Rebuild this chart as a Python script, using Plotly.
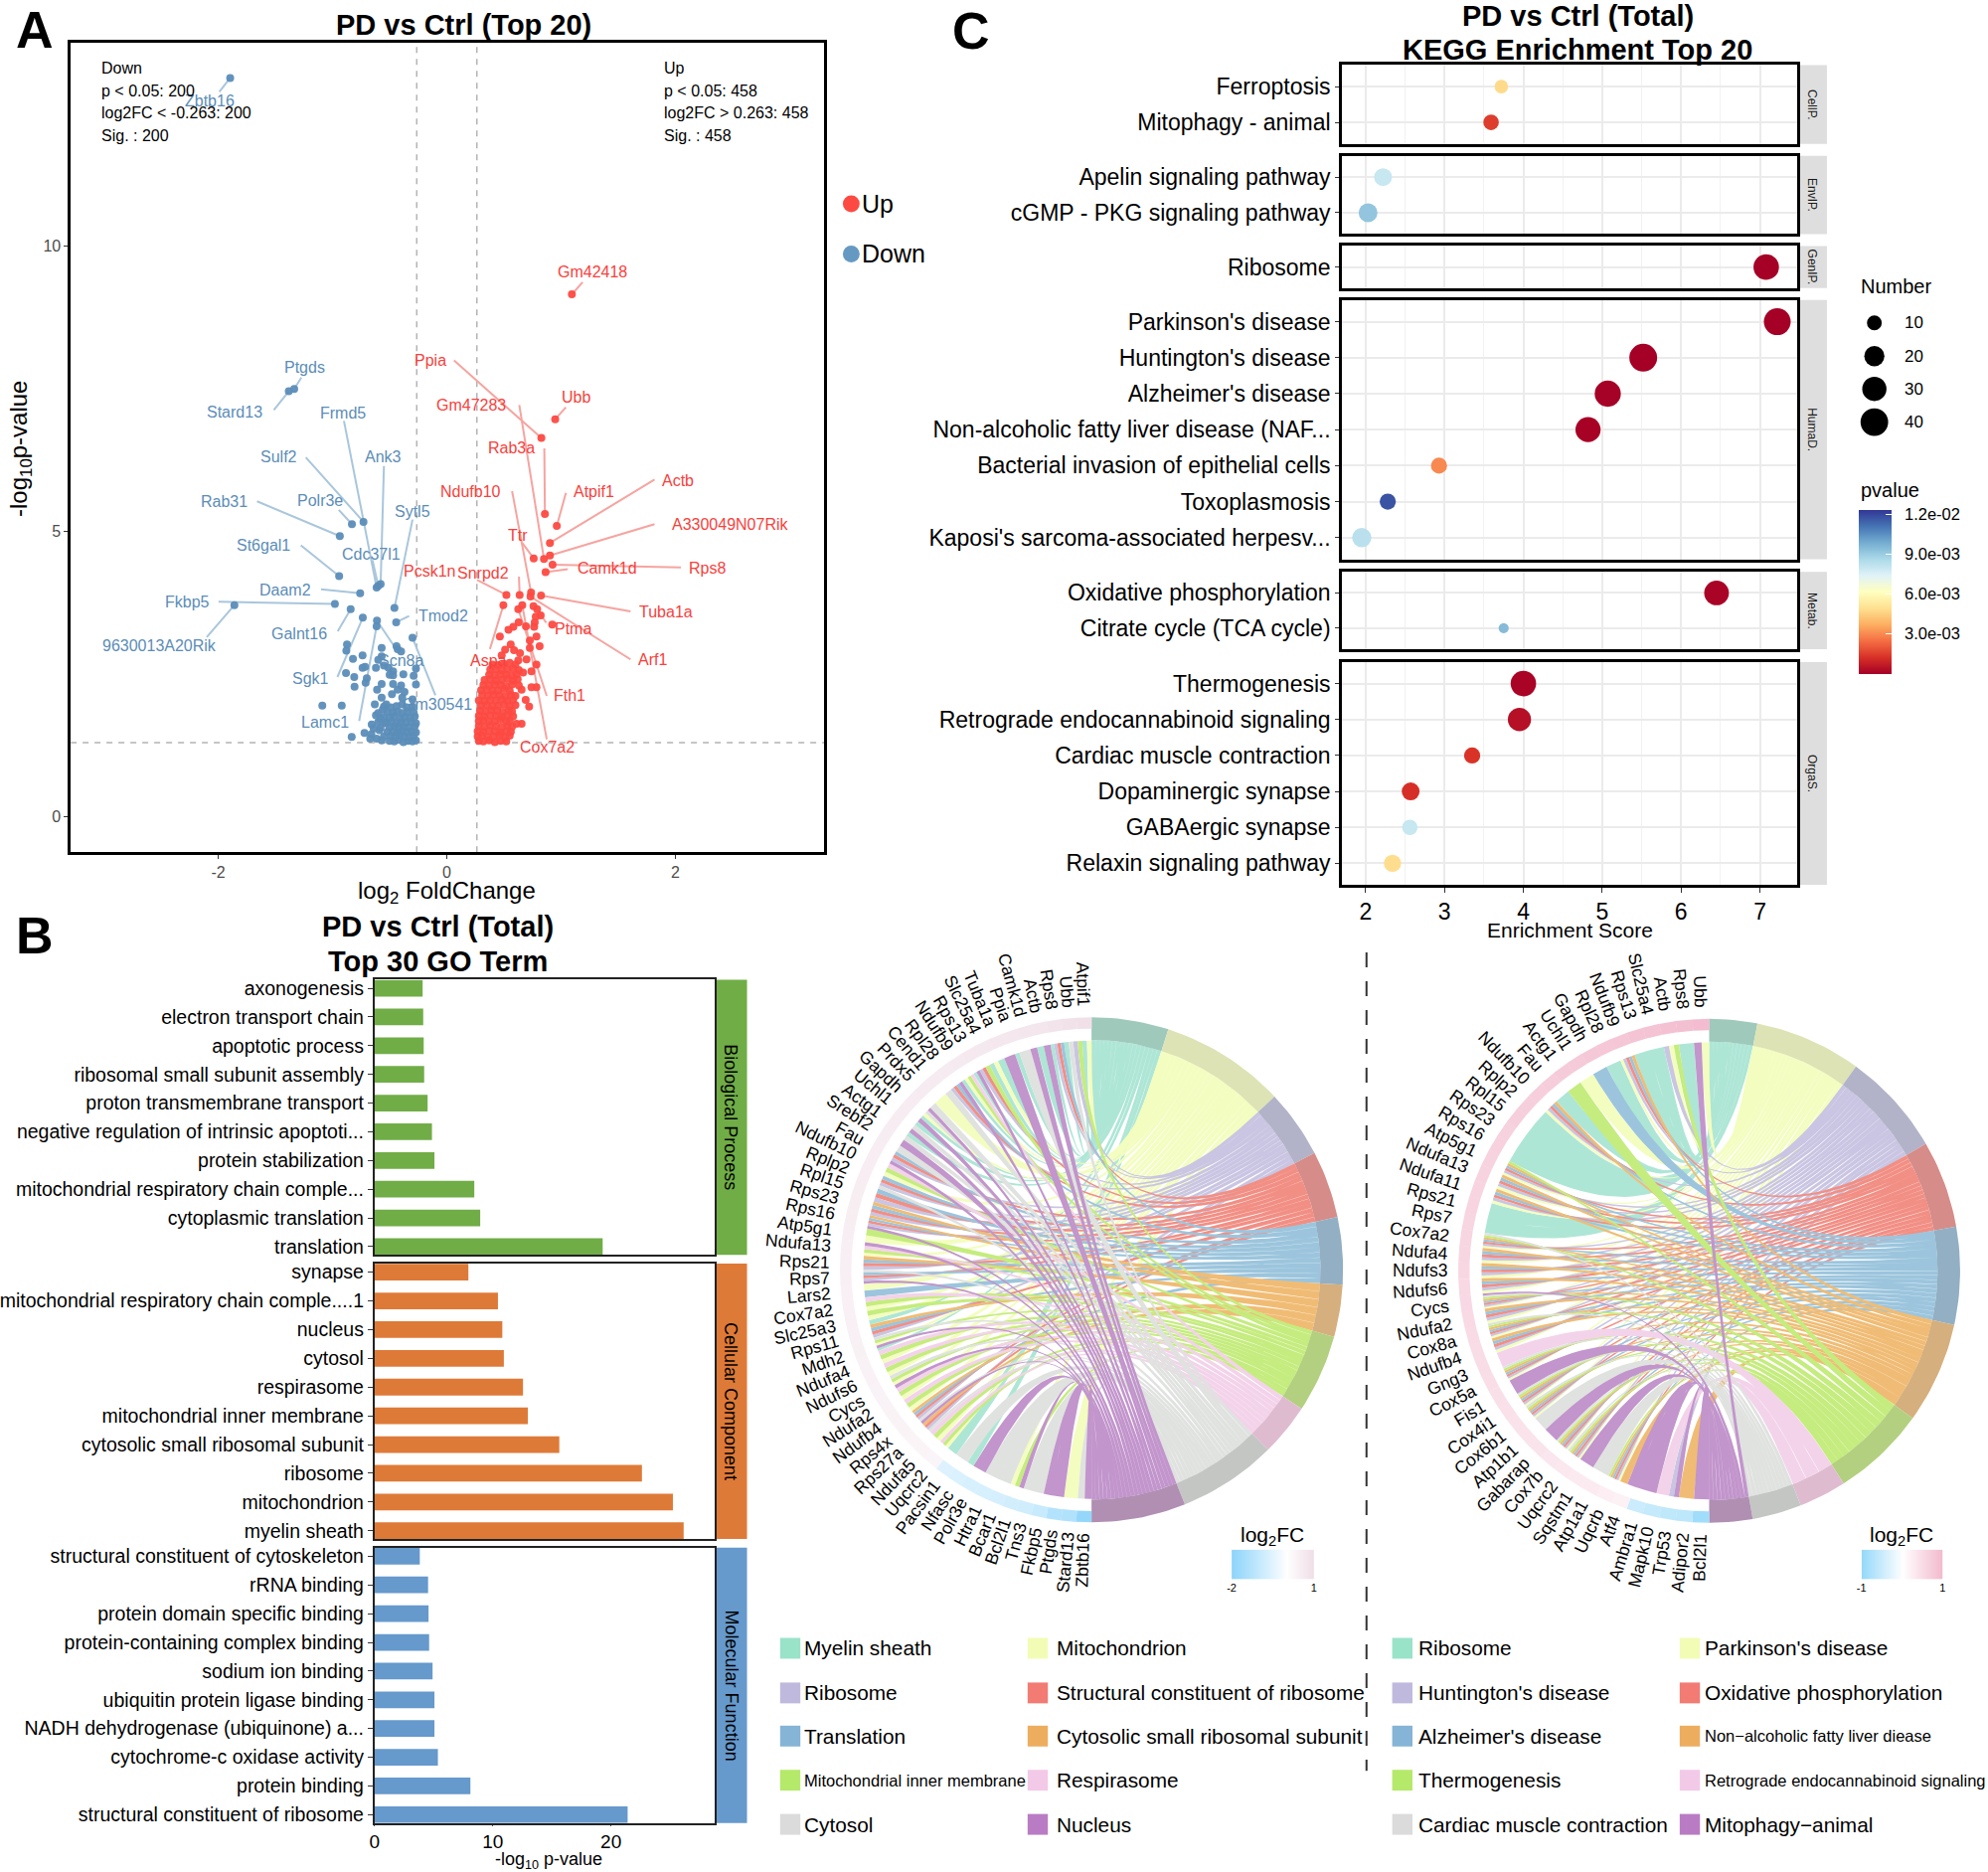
import math
import plotly.graph_objects as go
from plotly.colors import sample_colorscale

W, H = 2000, 1883
FONT = "Liberation Sans"

# ---------------- Panel A data ----------------
down_names = ["Zbtb16","Ptgds","Stard13","Frmd5","Sulf2","Ank3","Rab31","Polr3e","Sytl5","St6gal1","Cdc37l1","Daam2","Fkbp5","9630013A20Rik","Tmod2","Galnt16","Sgk1","Lamc1","Scn8a","Gm30541"]
down_fc = [-1.895,-1.335,-1.382,-0.614,-0.729,-0.579,-0.936,-0.83,-0.458,-0.942,-0.60,-0.758,-0.979,-1.858,-0.443,-0.841,-0.735,-0.614,-0.611,-0.30]
down_p = [12.95,7.50,7.46,4.02,5.17,4.08,4.92,5.13,3.66,4.22,4.05,3.92,3.73,3.71,3.41,3.64,3.49,3.34,3.44,3.14]
down_text_fc = [-2.07,-1.246,-1.853,-0.91,-1.467,-0.556,-1.947,-1.106,-0.30,-1.605,-0.657,-1.411,-2.27,-2.51,-0.03,-1.294,-1.195,-1.066,-0.40,-0.086]
down_text_p = [12.55,7.88,7.09,7.08,6.31,6.31,5.53,5.54,5.36,4.76,4.60,3.98,3.77,3.0,3.52,3.21,2.43,1.66,2.74,1.97]
down_stub_fc = [-1.99,-1.272,-1.513,-0.90,-1.233,-0.55,-1.66,-0.945,-0.30,-1.277,-0.65,-1.10,-1.997,-2.10,-0.33,-0.954,-0.957,-0.767,-0.44,-0.10]
down_stub_p = [12.71,7.70,7.13,6.94,6.30,6.15,5.53,5.38,5.21,4.76,4.50,3.99,3.77,3.15,3.52,3.25,2.45,1.68,2.93,2.13]

down_other_fc = [-0.873,-0.879,-0.821,-0.737,-0.737,-0.715,-0.882,-0.81,-0.807,-0.70,-0.71,-1.089,-0.919,-0.832,-0.72,-0.657,-0.66,-0.614,-0.67,
  -0.57,-0.44,-0.43,-0.40,-0.57,-0.60,-0.62,-0.55,-0.51,-0.47,-0.50,-0.47,-0.38,-0.29,-0.27,-0.57,-0.61,-0.47,-0.40,-0.37,-0.27,-0.43,-0.48,-0.39,-0.57,-0.63,-0.53,-0.30,-0.39,
  -0.50,-0.46,-0.42,-0.38,-0.34,-0.30,-0.27,-0.55,-0.49,-0.45,-0.41,-0.37,-0.33,-0.29,-0.52,-0.47,-0.43,-0.39,-0.35,-0.31,-0.27,
  -0.58,-0.50,-0.46,-0.42,-0.38,-0.33,-0.28,-0.60,-0.53,-0.48,-0.44,-0.40,-0.36,-0.31,-0.27,-0.55,-0.50,-0.46,-0.41,-0.37,-0.32,-0.28,
  -0.52,-0.47,-0.43,-0.39,-0.34,-0.29,-0.55,-0.49,-0.44,-0.35,-0.30,-0.60,-0.56,-0.58,-0.62,-0.54,-0.59,-0.64,-0.57]
down_other_p = [3.02,2.91,2.77,2.83,2.61,2.63,2.52,2.45,2.28,2.43,2.35,1.95,1.95,1.40,1.47,1.62,1.45,1.37,1.37,
  2.96,2.99,2.94,2.90,2.81,2.75,2.61,2.65,2.61,2.55,2.49,2.48,2.50,2.47,2.60,2.33,2.23,2.33,2.30,2.19,2.32,2.23,2.15,2.09,2.09,1.97,1.97,2.06,1.97,
  1.33,1.32,1.35,1.31,1.33,1.32,1.34,1.41,1.42,1.40,1.43,1.41,1.40,1.42,1.49,1.50,1.48,1.51,1.49,1.50,1.48,
  1.56,1.57,1.59,1.56,1.58,1.57,1.59,1.66,1.65,1.67,1.64,1.66,1.65,1.67,1.64,1.75,1.74,1.76,1.73,1.75,1.74,1.76,
  1.84,1.83,1.85,1.82,1.84,1.83,1.93,1.92,1.94,1.92,1.93,1.82,1.88,1.72,1.78,1.64,1.52,1.55,1.34]

up_names = ["Gm42418","Ppia","Ubb","Gm47283","Rab3a","Ndufb10","Atpif1","Actb","A330049N07Rik","Ttr","Pcsk1n","Snrpd2","Camk1d","Rps8","Tuba1a","Ptma","Arf1","Aspa","Fth1","Cox7a2"]
up_fc = [1.094,0.827,0.948,0.85,0.858,0.737,0.962,0.902,0.902,0.76,0.521,0.637,0.864,0.925,0.824,0.79,0.732,0.495,0.625,0.66]
up_p = [9.16,6.64,6.97,4.52,5.31,3.93,5.10,4.80,4.58,4.53,3.89,3.89,4.29,4.42,3.88,3.64,3.86,3.71,3.64,3.71]
up_text_fc = [1.277,-0.141,1.126,0.215,0.565,0.209,1.288,2.02,2.482,0.623,-0.152,0.314,1.408,2.277,1.921,1.10,1.80,0.361,1.073,0.874]
up_text_p = [9.55,8.0,7.36,7.22,6.47,5.70,5.70,5.90,5.12,4.94,4.30,4.27,4.36,4.36,3.60,3.30,2.75,2.74,2.12,1.22]
up_stub_fc = [1.188,0.063,1.042,0.634,0.853,0.571,1.042,1.817,1.817,0.66,0.265,0.631,1.058,2.047,1.607,0.87,1.607,0.377,0.874,0.874]
up_stub_p = [9.37,8.0,7.18,7.22,6.46,5.71,5.68,5.91,5.13,4.80,4.15,4.21,4.34,4.37,3.6,3.40,2.76,2.94,2.12,1.36]

up_other_fc = [0.758,0.821,0.778,0.922,0.769,0.628,0.582,0.539,0.692,0.764,0.464,0.784,0.726,0.559,0.812,0.726,0.51,0.588,0.48,0.64,0.697,0.625,0.784,0.74,0.667,0.784,0.74,0.654,0.69,0.72,0.654,0.61,
  0.28,0.32,0.37,0.42,0.47,0.52,
  0.27,0.31,0.36,0.41,0.46,0.51,0.55,
  0.27,0.32,0.37,0.42,0.47,0.52,0.56,
  0.28,0.33,0.38,0.43,0.48,0.53,0.57,
  0.28,0.32,0.37,0.42,0.47,0.52,0.55,
  0.28,0.33,0.38,0.43,0.48,0.53,0.58,
  0.29,0.34,0.39,0.44,0.49,0.54,0.57,
  0.30,0.35,0.40,0.45,0.50,0.55,0.60,
  0.28,0.33,0.38,0.43,0.48,0.53,0.58,
  0.31,0.36,0.41,0.46,0.51,0.56,0.60,
  0.30,0.35,0.40,0.45,0.50,0.55,
  0.32,0.37,0.42,0.47,0.52,0.57,0.63,
  0.33,0.38,0.43,0.48,0.53,0.58,0.62,
  0.37,0.42,0.47,0.52,0.57,0.61,
  0.38,0.43,0.48,0.53,0.58,0.63,
  0.40,0.45,0.50,0.55,0.60]
up_other_p = [3.69,3.53,3.51,3.37,3.41,3.41,3.33,3.28,3.34,3.33,3.16,3.16,3.09,3.02,2.99,2.96,2.93,2.92,2.83,2.87,2.76,2.74,2.67,2.55,2.53,2.27,2.27,2.23,2.05,1.93,1.63,1.63,
  1.33,1.32,1.34,1.31,1.33,1.32,
  1.41,1.42,1.40,1.41,1.43,1.40,1.42,
  1.50,1.49,1.51,1.50,1.48,1.50,1.49,
  1.59,1.58,1.60,1.59,1.57,1.60,1.58,
  1.68,1.69,1.67,1.68,1.70,1.67,1.69,
  1.77,1.76,1.78,1.77,1.75,1.78,1.76,
  1.86,1.85,1.87,1.86,1.84,1.87,1.85,
  1.95,1.96,1.94,1.95,1.97,1.94,1.96,
  2.04,2.03,2.05,2.04,2.06,2.03,2.05,
  2.13,2.12,2.14,2.13,2.11,2.14,2.12,
  2.22,2.23,2.21,2.22,2.24,2.21,
  2.31,2.30,2.32,2.31,2.29,2.32,2.30,
  2.40,2.41,2.39,2.40,2.42,2.39,2.41,
  2.49,2.48,2.50,2.49,2.47,2.50,
  2.58,2.59,2.57,2.58,2.60,2.57,
  2.67,2.66,2.68,2.70,2.67]

# ---------------- Panel B data ----------------
bp_terms = ["axonogenesis","electron transport chain","apoptotic process","ribosomal small subunit assembly","proton transmembrane transport","negative regulation of intrinsic apoptoti...","protein stabilization","mitochondrial respiratory chain comple...","cytoplasmic translation","translation"]
bp_vals = [4.07,4.12,4.16,4.2,4.49,4.86,5.07,8.44,8.94,19.3]
cc_terms = ["synapse","mitochondrial respiratory chain comple....1","nucleus","cytosol","respirasome","mitochondrial inner membrane","cytosolic small ribosomal subunit","ribosome","mitochondrion","myelin sheath"]
cc_vals = [7.94,10.44,10.81,10.94,12.56,12.97,15.63,22.62,25.24,26.15]
mf_terms = ["structural constituent of cytoskeleton","rRNA binding","protein domain specific binding","protein-containing complex binding","sodium ion binding","ubiquitin protein ligase binding","NADH dehydrogenase (ubiquinone) a...","cytochrome-c oxidase activity","protein binding","structural constituent of ribosome"]
mf_vals = [3.83,4.53,4.57,4.62,4.91,5.07,5.07,5.36,8.11,21.41]

# ---------------- Panel C data ----------------
kegg_groups = ["CellP.","EnvIP.","GenIP.","HumaD.","Metab.","OrgaS."]
kegg_terms = [["Ferroptosis","Mitophagy - animal"],["Apelin signaling pathway","cGMP - PKG signaling pathway"],["Ribosome"],
  ["Parkinson's disease","Huntington's disease","Alzheimer's disease","Non-alcoholic fatty liver disease (NAF...","Bacterial invasion of epithelial cells","Toxoplasmosis","Kaposi's sarcoma-associated herpesv..."],
  ["Oxidative phosphorylation","Citrate cycle (TCA cycle)"],
  ["Thermogenesis","Retrograde endocannabinoid signaling","Cardiac muscle contraction","Dopaminergic synapse","GABAergic synapse","Relaxin signaling pathway"]]
kegg_score = [[3.72,3.59],[2.22,2.03],[7.08],[7.22,5.52,5.07,4.82,2.93,2.28,1.95],[6.45,3.75],[4.0,3.95,3.35,2.57,2.56,2.34]]
kegg_count = [[8,11],[15,17],[33],[37,40,35,32,12,12,18],[31,4],[33,27,12,15,11,14]]
kegg_p = [[0.0048,0.0015],[0.0080,0.0092],[0.00001],[0.00001,0.00001,0.00002,0.00005,0.0030,0.0118,0.0083],[0.0001,0.0095],[0.0001,0.0004,0.0013,0.0012,0.0080,0.0049]]
number_levels = [10,20,30,40]
p_ticks = [0.003,0.006,0.009,0.012]
p_tick_text = ["\u00a0\u00a03.0e-03","\u00a0\u00a06.0e-03","\u00a0\u00a09.0e-03","\u00a0\u00a01.2e-02"]
p_scale = ["#a50026","#d73027","#f46d43","#fdae61","#fee090","#ffffbf","#e0f3f8","#abd9e9","#74add1","#4575b4","#313695"]

# ---------------- Chord data ----------------
go_terms = ["Myelin sheath","Mitochondrion","Ribosome","Structural constituent of ribosome","Translation","Cytosolic small ribosomal subunit","Mitochondrial inner membrane","Respirasome","Cytosol","Nucleus"]
go_arc = [17.8,28.9,15.8,15.5,15.5,12.0,18.0,12.1,22.8,21.8]
go_genes = ["Zbtb16","Stard13","Ptgds","Fkbp5","Tns3","Bcl2l1","Bcar1","Htra1","Polr3e","Nfasc","Pacsin1","Uqcrc2","Ndufa5","Rps27a","Rps4x","Ndufb4","Ndufa2","Cycs","Ndufs6","Ndufa4","Mdh2","Rps11","Slc25a3","Cox7a2","Lars2","Rps7","Rps21","Ndufa13","Atp5g1","Rps16","Rps23","Rpl15","Rplp2","Ndufb10","Fau","Srebf2","Actg1","Uchl1","Gapdh","Prdx5","Cend1","Rpl28","Ndufb9","Rps13","Slc25a4","Tuba1a","Ppia","Camk1d","Actb","Rps8","Ubb","Atpif1"]
go_members = ["JI","B","J","JI","I","JGB","I","I","J","AI","IA","ABGH","BGH","ICDFJ","ICDEF","BGH","BGH","JBGI","BGH","BGH","AJBGI","CDEF","ABG","BGH","EB","JCDEI","CDEF","BGHJ","BG","JCDEF","CDEF","CDE","ICDE","BGH","JCDE","IJ","IAJ","IAJ","ABIJ","IB","BI","CDEJ","ABGH","AJCD","GAB","AJ","JAI","IJ","AJ","ACDE","AIC","GAB"]
go_fc = [-1.9,-1.38,-1.34,-0.98,-0.85,-0.8,-0.75,-0.72,-0.7,-0.65,-0.6,0.3,0.32,0.33,0.35,0.36,0.37,0.38,0.4,0.41,0.42,0.43,0.44,0.45,0.45,0.46,0.47,0.48,0.49,0.5,0.5,0.51,0.52,0.52,0.53,0.54,0.55,0.56,0.57,0.58,0.59,0.6,0.62,0.64,0.66,0.68,0.7,0.72,0.74,0.78,0.85,0.9]
go_colorbar = [-2,-1,0,1]

kegg_chord_terms = ["Ribosome","Parkinson's disease","Huntington's disease","Oxidative phosphorylation","Alzheimer's disease","Non\u2212alcoholic fatty liver diease","Thermogenesis","Retrograde endocannabinoid signaling","Cardiac muscle contraction","Mitophagy\u2212animal"]
kegg_arc = [11.1,24.7,23.9,20.2,22.5,23.4,21.8,11.0,11.4,10.0]
kegg_genes = ["Bcl2l1","Adipor2","Trp53","Mapk10","Ambra1","Atf4","Uqcrb","Atp1a1","Sqstm1","Uqcrc2","Cox7b","Gabarap","Atp1b1","Cox6b1","Cox4i1","Fis1","Cox5a","Gng3","Ndufb4","Cox8a","Ndufa2","Cycs","Ndufs6","Ndufs3","Ndufa4","Cox7a2","Rps7","Rps21","Ndufa11","Ndufa13","Atp5g1","Rps16","Rps23","Rpl15","Rplp2","Ndufb10","Fau","Actg1","Uchl1","Gapdh","Rpl28","Ndufb9","Rps13","Slc25a4","Actb","Rps8","Ubb"]
kegg_members = ["J","F","JCH","HJ","J","JF","BCDEFGI","I","J","BCDEFGI","BCDEFGI","J","I","BCDEFGI","BCDEFGI","J","BCDEFGI","H","BCDEF","BCDEFGI","BCDEF","BCDEFGIJ","BCDEF","BCDEF","BCDEF","BCDEFGI","A","A","BCDEF","BCDEF","BCDEFG","A","A","A","A","BCDEF","A","G","B","E","A","BCDEF","A","A","CBG","A","JB"]
kegg_fc = [-0.9,-0.62,-0.6,-0.56,-0.5,0.2,0.25,0.28,0.3,0.33,0.35,0.38,0.4,0.42,0.44,0.46,0.48,0.5,0.5,0.52,0.54,0.55,0.56,0.57,0.58,0.6,0.6,0.61,0.62,0.63,0.64,0.65,0.66,0.68,0.69,0.7,0.72,0.74,0.76,0.78,0.8,0.82,0.84,0.86,0.88,0.9,0.95]
kegg_colorbar = [-1,-0.5,0,0.5,1]

ribbon_cols = ["#AEE6D6","#F3FDBF","#C9C5E2","#F28F85","#9CC5DD","#F0BC75","#C5EC7E","#F3D3EA","#E0E2E0","#C295CC"]
band_cols = ["#9EC9BB","#DDE3B4","#B2B3C8","#D68C88","#92AFC3","#D5AF7E","#B2D07F","#DFBBD0","#C4C6C4","#B08FB3"]
swatch_cols = ["#99E3C9","#F2FCB5","#BFBADD","#F27B74","#85B4D6","#EDAD5F","#B5E96A","#F3C9E8","#DBDBDB","#B97CC4"]

# ---------------- helpers ----------------
def dx(a, b): return [a / W, b / W]
def dy(t, b): return [1 - b / H, 1 - t / H]
def px(x): return x / W
def py(y): return 1 - y / H

fig = go.Figure()
layout = dict(width=W, height=H, margin=dict(l=0, r=0, t=0, b=0), plot_bgcolor="white", paper_bgcolor="white",
              showlegend=False, hovermode=False, font=dict(family=FONT, color="black"))
annotations, shapes = [], []

def page_text(x, y, text, size, bold=False, anchor="center", angle=0, color="black"):
    annotations.append(dict(xref="paper", yref="paper", x=px(x), y=py(y), text=f"<b>{text}</b>" if bold else text,
        showarrow=False, xanchor=anchor, yanchor="middle", textangle=angle, font=dict(size=size, color=color, family=FONT)))

def page_rect(x0, y0, x1, y1, col):
    shapes.append(dict(type="rect", xref="paper", yref="paper", x0=px(x0), x1=px(x1), y0=py(y0), y1=py(y1), fillcolor=col, line=dict(width=0), layer="below"))

# ---------------- Panel A ----------------
layout["xaxis"] = dict(domain=dx(62.5, 825), range=[-3.29, 3.30], anchor="y", tickvals=[-2, 0, 2], ticktext=["-2", "0", "2"], ticks="outside", ticklen=4, tickcolor="#333",
    tickfont=dict(size=16, color="#4d4d4d"), showgrid=False, zeroline=False, showline=True, linecolor="black", linewidth=2.5, mirror=True)
layout["yaxis"] = dict(domain=dy(41, 857), range=[-0.62, 13.57], anchor="x", tickvals=[0, 5, 10], ticks="outside", ticklen=4, tickcolor="#333",
    tickfont=dict(size=16, color="#4d4d4d"), showgrid=False, zeroline=False, showline=True, linecolor="black", linewidth=2.5, mirror=True)
for v in (-0.263, 0.263):
    shapes.append(dict(type="line", xref="x", yref="y", x0=v, x1=v, y0=-0.62, y1=13.57, line=dict(color="#B4B4B4", width=1.5, dash="6px,6px"), layer="below"))
shapes.append(dict(type="line", xref="x", yref="y", x0=-3.29, x1=3.30, y0=1.3, y1=1.3, line=dict(color="#B4B4B4", width=1.5, dash="6px,6px"), layer="below"))

def seg(xs, ys, sx, sy):
    ox, oy = [], []
    for a, b, c, d in zip(xs, ys, sx, sy):
        ox += [a, c, None]; oy += [b, d, None]
    return ox, oy

sx, sy = seg(down_fc, down_p, down_stub_fc, down_stub_p)
fig.add_trace(go.Scatter(x=sx, y=sy, mode="lines", line=dict(color="#A9C6DC", width=2), xaxis="x", yaxis="y"))
sx, sy = seg(up_fc, up_p, up_stub_fc, up_stub_p)
fig.add_trace(go.Scatter(x=sx, y=sy, mode="lines", line=dict(color="#F6A4A0", width=2), xaxis="x", yaxis="y"))
fig.add_trace(go.Scatter(x=down_fc + down_other_fc, y=down_p + down_other_p, mode="markers", marker=dict(size=8, color="#5B8DB8", opacity=0.95), xaxis="x", yaxis="y"))
fig.add_trace(go.Scatter(x=up_fc + up_other_fc, y=up_p + up_other_p, mode="markers", marker=dict(size=8, color="#FC4A42", opacity=0.95), xaxis="x", yaxis="y"))
for names, xs, ys, col in ((down_names, down_text_fc, down_text_p, "#5B8DB8"), (up_names, up_text_fc, up_text_p, "#F8413C")):
    for n, a, b in zip(names, xs, ys):
        annotations.append(dict(xref="x", yref="y", x=a, y=b, text=n, showarrow=False, xanchor="center", yanchor="middle", font=dict(size=16, color=col, family=FONT)))
for i, t in enumerate(["Down", "p &lt; 0.05: 200", "log2FC &lt; -0.263: 200", "Sig. : 200"]):
    page_text(92, 67 + i * 22.5, t, 16, anchor="left")
for i, t in enumerate(["Up", "p &lt; 0.05: 458", "log2FC &gt; 0.263: 458", "Sig. : 458"]):
    page_text(661, 67 + i * 22.5, t, 16, anchor="left")
page_text(460, 23, "PD vs Ctrl (Top 20)", 29, bold=True)
page_text(443, 897, "log<sub>2</sub> FoldChange", 24)
page_text(11, 450, "-log<sub>10</sub>p-value", 24, angle=-90)
for y, col, t in ((203.4, "#FC4A42", "Up"), (254, "#6699C2", "Down")):
    shapes.append(dict(type="circle", xref="paper", yref="paper", x0=px(844), x1=px(861), y0=py(y + 8.5), y1=py(y - 8.5), fillcolor=col, line=dict(width=0)))
    page_text(861, y, t, 25, anchor="left")
page_text(26, 28, "A", 52, bold=True)
page_text(26, 941, "B", 52, bold=True)
page_text(974, 29, "C", 52, bold=True)

# ---------------- Panel B ----------------
b_specs = [(bp_terms, bp_vals, "#70AD47", "Biological Process", 985.5, 1263), (cc_terms, cc_vals, "#DE7A38", "Cellular Component", 1271.7, 1549.4), (mf_terms, mf_vals, "#6699CC", "Molecular Function", 1558, 1835.6)]
for k, (terms, vals, col, strip, t, b) in enumerate(b_specs):
    n = 2 + k
    last = k == 2
    layout[f"xaxis{n}"] = dict(domain=dx(370, 714), range=[0, 28.75], anchor=f"y{n}", tickvals=[0, 10, 20] if last else [], ticks="outside" if last else "", ticklen=1,
        tickfont=dict(size=19), showgrid=False, zeroline=False, showline=True, linecolor="#222", linewidth=1.8, mirror=True)
    layout[f"yaxis{n}"] = dict(domain=dy(t, b), type="category", categoryorder="array", categoryarray=terms, range=[9.29, -0.30], anchor=f"x{n}", dtick=1, ticks="outside", ticklen=5, tickcolor="#333",
        tickfont=dict(size=19.5), showgrid=False, zeroline=False, showline=True, linecolor="#222", linewidth=1.8, mirror=True)
    fig.add_trace(go.Bar(x=vals, y=terms, orientation="h", width=0.58, marker=dict(color=col, line=dict(width=0)), xaxis=f"x{n}", yaxis=f"y{n}"))
    page_rect(716, t, 747, b, col)
    page_text(731, (t + b) / 2, strip, 18, angle=90)
page_text(434.5, 932, "PD vs Ctrl (Total)", 29, bold=True)
page_text(434.5, 967, "Top 30 GO Term", 29, bold=True)
page_text(546, 1873, "-log<sub>10</sub> p-value", 18)

# ---------------- Panel C ----------------
def number_size(n):
    return 15 + (math.sqrt(n) - math.sqrt(10)) * 4.11

c_boxes = [(63.6, 143), (155, 233.9), (246, 288.4), (300.5, 561.7), (574.4, 652.5), (665.3, 890)]
for k, (g, terms, score, count, pv, (t, b)) in enumerate(zip(kegg_groups, kegg_terms, kegg_score, kegg_count, kegg_p, c_boxes)):
    n = 5 + k
    last = k == 5
    layout[f"xaxis{n}"] = dict(domain=dx(1349, 1810), range=[1.697, 7.474], anchor=f"y{n}", tickvals=[2, 3, 4, 5, 6, 7], showticklabels=last, ticks="outside" if last else "", ticklen=5, tickcolor="#333",
        tickfont=dict(size=23), showgrid=True, gridcolor="#EBEBEB", gridwidth=2, zeroline=False, showline=True, linecolor="black", linewidth=2.5, mirror=True,
        minor=dict(tickvals=[2.5, 3.5, 4.5, 5.5, 6.5], showgrid=True, gridcolor="#F2F2F2", gridwidth=1))
    layout[f"yaxis{n}"] = dict(domain=dy(t, b), type="category", categoryorder="array", categoryarray=terms, range=[len(terms) - 1 + 0.6, -0.6], anchor=f"x{n}", dtick=1, ticks="outside", ticklen=4, tickcolor="#333",
        tickfont=dict(size=23), showgrid=True, gridcolor="#EBEBEB", gridwidth=2, zeroline=False, showline=True, linecolor="black", linewidth=2.5, mirror=True)
    fig.add_trace(go.Scatter(x=score, y=terms, mode="markers", marker=dict(size=[number_size(c) for c in count], color=pv, coloraxis="coloraxis", opacity=1, line=dict(width=0)), xaxis=f"x{n}", yaxis=f"y{n}"))
    page_rect(1811, t, 1840, b, "#DEDEDE")
    page_text(1825, (t + b) / 2, g, 12, angle=90, color="#1a1a1a")
layout["coloraxis"] = dict(cmin=0, cmax=0.01236, colorscale=[[i / 10, c] for i, c in enumerate(p_scale)],
    colorbar=dict(x=px(1872), xanchor="left", y=py(677), yanchor="bottom", thickness=33, thicknessmode="pixels", len=165, lenmode="pixels", xpad=0, ypad=0, outlinewidth=0,
        tickvals=p_ticks, ticktext=p_tick_text, ticks="inside", ticklen=6, tickcolor="white", tickwidth=1.2, tickfont=dict(size=16.5, family=FONT)))
page_text(1588, 14, "PD vs Ctrl (Total)", 29, bold=True)
page_text(1588, 48, "KEGG Enrichment Top 20", 29, bold=True)
page_text(1579.5, 935, "Enrichment Score", 21)
page_text(1872, 287, "Number", 20, anchor="left")
page_text(1872, 492.5, "pvalue", 20, anchor="left")
for lv, y in zip(number_levels, (323.5, 357, 390, 423.5)):
    d = number_size(lv) / 2
    shapes.append(dict(type="circle", xref="paper", yref="paper", x0=px(1888 - d), x1=px(1888 + d), y0=py(y + d), y1=py(y - d), fillcolor="black", line=dict(width=0)))
    page_text(1916, y, str(lv), 17, anchor="left")

# ---------------- Chords ----------------
EM = dict(zip("ilj", [0.222] * 3)); EM.update(dict(zip("ft", [0.278] * 2))); EM["r"] = 0.333
EM.update(dict(zip("sckyzvx", [0.5] * 7))); EM["m"] = 0.833; EM["w"] = 0.722
EM.update(dict(zip("ABEKPSVXY", [0.667] * 9))); EM.update(dict(zip("CDHNRU", [0.722] * 6))); EM.update(dict(zip("FTZ", [0.611] * 3)))
EM.update(dict(zip("GOQ", [0.778] * 3))); EM["M"] = 0.833; EM["I"] = 0.278

def pol(r, deg):
    a = math.radians(deg)
    return r * math.sin(a), r * math.cos(a)

def ring_poly(r0, r1, a0, a1):
    steps = max(2, int(abs(a1 - a0) / 1.5) + 2)
    angs = [a0 + (a1 - a0) * i / (steps - 1) for i in range(steps)]
    pts = [pol(r1, a) for a in angs] + [pol(r0, a) for a in reversed(angs)]
    pts.append(pts[0])
    return [p[0] for p in pts], [p[1] for p in pts]

def chord(n, cx, cy, R, genes, members, arcs, fc, vmin, vmax, scale):
    left, right, vert = 370, 270, 350
    layout[f"xaxis{n}"] = dict(domain=dx(cx - left, cx + right), range=[-left / R, right / R], anchor=f"y{n}", visible=False)
    layout[f"yaxis{n}"] = dict(domain=dy(cy - vert, cy + vert), range=[-vert / R, vert / R], anchor=f"x{n}", visible=False)
    total = sum(arcs)
    bounds = [0]
    for a in arcs:
        bounds.append(bounds[-1] + a * 180 / total)
    w = 180 / len(genes)
    slots = {t: [] for t in range(10)}
    for g, m in enumerate(members):
        for j, letter in enumerate(m):
            sw = w / len(m)
            slots["ABCDEFGHIJ".index(letter)].append((g, 180 + g * w + j * sw, 180 + g * w + (j + 1) * sw))
    r_t, r_g = 0.91, 0.907
    ts = [i / 36 for i in range(37)]
    for t in range(10):
        xs, ys = [], []
        items = sorted(slots[t], key=lambda s: -s[1])
        dth = (bounds[t + 1] - bounds[t]) / max(1, len(items))
        for k, (g, a0, a1) in enumerate(items):
            s1 = pol(r_t, bounds[t] + k * dth); s2 = pol(r_t, bounds[t] + (k + 0.97) * dth)
            e1 = pol(r_g, a1); e2 = pol(r_g, a0)
            c1 = [((1 - u) ** 2 * s1[0] + u ** 2 * e1[0], (1 - u) ** 2 * s1[1] + u ** 2 * e1[1]) for u in ts]
            c2 = [((1 - u) ** 2 * s2[0] + u ** 2 * e2[0], (1 - u) ** 2 * s2[1] + u ** 2 * e2[1]) for u in ts]
            poly = c1 + c2[::-1] + [c1[0]]
            xs += [p[0] for p in poly] + [None]; ys += [p[1] for p in poly] + [None]
        fig.add_trace(go.Scatter(x=xs, y=ys, mode="lines", fill="toself", fillcolor=ribbon_cols[t], line=dict(width=0), xaxis=f"x{n}", yaxis=f"y{n}"))
    for t in range(10):
        xs, ys = ring_poly(r_t, 1, bounds[t], bounds[t + 1])
        fig.add_trace(go.Scatter(x=xs, y=ys, mode="lines", fill="toself", fillcolor=band_cols[t], line=dict(width=0), xaxis=f"x{n}", yaxis=f"y{n}"))
    for g, (name, v) in enumerate(zip(genes, fc)):
        col = sample_colorscale(scale, [(v - vmin) / (vmax - vmin)])[0]
        xs, ys = ring_poly(0.955, 1, 180 + g * w, 180 + (g + 1) * w + 0.05)
        fig.add_trace(go.Scatter(x=xs, y=ys, mode="lines", fill="toself", fillcolor=col, line=dict(width=0), xaxis=f"x{n}", yaxis=f"y{n}"))
        a = 180 + (g + 0.5) * w
        width = sum(EM.get(c, 0.556) for c in name) * 17.5
        lx, ly = pol((265.5 + width / 2) / R, a)
        annotations.append(dict(xref=f"x{n}", yref=f"y{n}", x=lx, y=ly, text=name, showarrow=False, xanchor="center", yanchor="middle", textangle=a - 270, font=dict(size=17.5, family=FONT)))

def colorbar(n, x0, x1, zvals, scale):
    layout[f"xaxis{n}"] = dict(domain=dx(x0, x1), range=[zvals[0], zvals[-1]], anchor=f"y{n}", tickvals=[zvals[0], zvals[-1]], ticktext=[str(zvals[0]), str(zvals[-1])], tickfont=dict(size=11), ticklen=0, showgrid=False, zeroline=False, showline=False)
    layout[f"yaxis{n}"] = dict(domain=dy(1560, 1590), range=[0, 1], anchor=f"x{n}", visible=False)
    fig.add_trace(go.Heatmap(x=zvals, y=[0, 1], z=[zvals, zvals], colorscale=scale, zmin=zvals[0], zmax=zvals[-1], zsmooth="best", showscale=False, xaxis=f"x{n}", yaxis=f"y{n}"))

scale1 = [[0, "#8ED5FB"], [2 / 3, "#FFFFFF"], [1, "#EFDDE6"]]
scale2 = [[0, "#95D9F9"], [0.5, "#FFFFFF"], [1, "#F2B9CD"]]
chord(11, 1095.7, 1278, 254.6, go_genes, go_members, go_arc, go_fc, -2, 1, scale1)
chord(12, 1720.8, 1279, 254, kegg_genes, kegg_members, kegg_arc, kegg_fc, -1, 1, scale2)
colorbar(13, 1237.5, 1320.7, go_colorbar, scale1)
colorbar(14, 1875, 1957, kegg_colorbar, scale2)
page_text(1279, 1546, "log<sub>2</sub>FC", 21)
page_text(1915, 1546, "log<sub>2</sub>FC", 21)

shapes.append(dict(type="line", xref="paper", yref="paper", x0=px(1374), x1=px(1374), y0=py(958), y1=py(1783), line=dict(color="#333", width=2, dash="15px,14px")))

rows = [1659.5, 1704.5, 1748, 1792.5, 1837]
def legend(names, idx_col1, idx_col2, x_sw1, x_t1, x_sw2, x_t2, sizes):
    for col_idx, x_sw, x_t in ((idx_col1, x_sw1, x_t1), (idx_col2, x_sw2, x_t2)):
        for r, i in enumerate(col_idx):
            page_rect(x_sw, rows[r] - 10.5, x_sw + 20.5, rows[r] + 10.5, swatch_cols[i])
            page_text(x_t, rows[r], names[i], sizes.get(i, 20.8), anchor="left")

legend(go_terms, [0, 2, 4, 6, 8], [1, 3, 5, 7, 9], 780.5, 803, 1031, 1058.5, {6: 16.5})
legend(kegg_chord_terms, [0, 2, 4, 6, 8], [1, 3, 5, 7, 9], 1400, 1425, 1691, 1714, {5: 16.5, 7: 16.5})

layout["annotations"] = annotations
layout["shapes"] = shapes
fig.update_layout(**layout)
fig.update_traces(hoverinfo="skip")
fig.write_html("out.html", config={"displayModeBar": False}, post_script="document.body.style.margin='0';document.documentElement.style.overflow='hidden';")
